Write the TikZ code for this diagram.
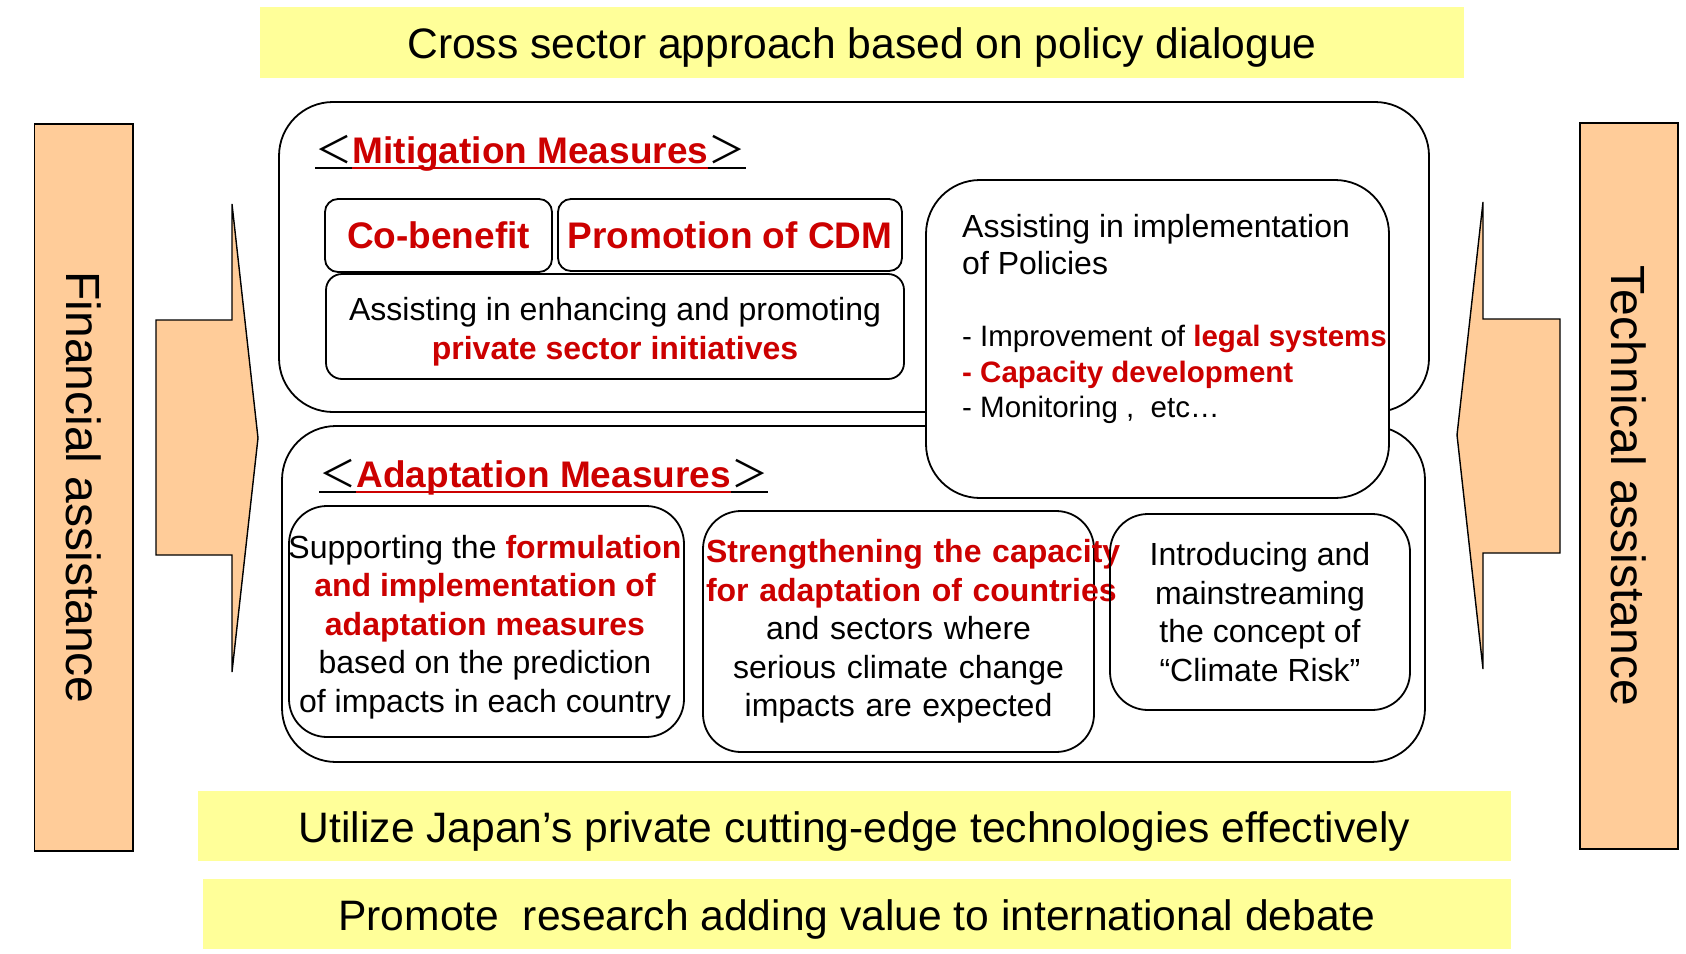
\documentclass[tikz,border=0pt]{standalone}
\usepackage{fontspec}
\setmainfont{Liberation Sans}
\newfontfamily\cjk{Noto Sans CJK JP}
\usepackage{xcolor}
\usepackage{tikz}
\usetikzlibrary{positioning}
\definecolor{bandyellow}{RGB}{255,255,153}
\definecolor{sideorange}{RGB}{255,204,153}
\definecolor{keyred}{RGB}{204,0,0}
\newcommand{\kw}[1]{\textcolor{keyred}{\bfseries #1}}

\begin{document}
\begin{tikzpicture}[x=1pt, y=-1pt,
  band/.style={fill=bandyellow, inner sep=0pt, text height=32pt, text depth=0pt,
               font=\fontsize{42.6}{48}\selectfont},
  sidebar/.style={draw, fill=sideorange, line width=1.6pt, inner sep=0pt,
                  font=\fontsize{48}{54}\selectfont},
  bigbox/.style={draw, rounded corners=54pt, line width=1.8pt, inner sep=0pt},
  smallbox/.style={draw, rounded corners=13pt, line width=1.8pt, inner sep=3pt,
                   align=center, font=\fontsize{37}{42}\selectfont},
  adbox/.style={draw, rounded corners=38pt, line width=1.8pt, inner sep=3pt,
                align=center, font=\fontsize{32}{38.5}\selectfont},
  boxtext/.style={inner sep=0pt, align=center, font=\fontsize{32}{38.5}\selectfont},
  head/.style={inner sep=0pt, anchor=base west, font=\fontsize{37}{42}\selectfont},
  uline/.style={line width=2pt},
  bigarrow/.style={draw, fill=sideorange, line width=1.4pt}
]
\useasboundingbox (0,0) rectangle (1686,953);

% yellow bands
\node[band, minimum width=1204pt, minimum height=71pt] (crosssector) at (862,42.5)
  {Cross sector approach based on policy dialogue};
\node[band, minimum width=1313pt, minimum height=70pt] (technology) at (854.5,826)
  {Utilize Japan’s private cutting-edge technologies effectively};
\node[band, minimum width=1308pt, minimum height=70pt] (research) at (857,914)
  {Promote\ \ research adding value to international debate};

% side bars and arrows
\node[sidebar, rotate=-90, minimum width=727pt, minimum height=98.5pt] (financial) at (83.75,487.5) {Financial assistance};
\node[sidebar, rotate=-90, minimum width=726pt, minimum height=98pt] (technical) at (1629,486) {Technical assistance};
\draw[bigarrow] (156,320) -- (232,320) -- (232,204) -- (258,438) -- (232,672) -- (232,555) -- (156,555) -- cycle;
\draw[bigarrow] (1560,319) -- (1483,319) -- (1483,202) -- (1457,435) -- (1483,669) -- (1483,553) -- (1560,553) -- cycle;

% frames
\node[bigbox, minimum width=1150pt, minimum height=310pt] (mitigation) at (854,257) {};
\node[bigbox, minimum width=1143pt, minimum height=336pt] (adaptation) at (853.5,594) {};
\node[bigbox, fill=white, minimum width=463pt, minimum height=318pt] (policy) at (1157.5,339) {};

% Mitigation
\node[head] (mitl) at (315,163) {\cjk ＜};
\node[head, text=keyred] (mitt) at (mitl.base east) {\bfseries Mitigation Measures};
\node[head] (mitr) at (mitt.base east) {\cjk ＞};
\draw[uline] ([yshift=-5pt]mitl.base west) -- ([yshift=-5pt]mitr.base east);
\draw[uline, keyred] ([yshift=-5pt]mitt.base west) -- ([yshift=-5pt]mitt.base east);

\node[smallbox, minimum width=227pt, minimum height=73pt] (cobenefit) at (438.5,235.5) {\kw{Co-benefit}};
\node[smallbox, minimum width=344pt, minimum height=72pt] (cdm) at (730,235) {\kw{Promotion of CDM}};
\node[smallbox, minimum width=578pt, minimum height=105pt, rounded corners=16pt] (private) at (615,326.5) {};
\node[boxtext] (privatetext) at (615,331.5)
  {Assisting in enhancing and promoting\\\kw{private sector initiatives}};

% Policies
\node[anchor=north west, inner sep=0pt, align=left, font=\fontsize{32}{37}\selectfont]
  (policyhead) at (962,214) {Assisting in implementation\\of Policies};
\node[anchor=north west, inner sep=0pt, align=left, font=\fontsize{29.5}{35.5}\selectfont]
  (policylist) at (962,325)
  {- Improvement of \kw{legal systems}\\\kw{- Capacity development}\\- Monitoring ,\ \ etc…};

% Adaptation
\node[head] (adpl) at (319,487) {\cjk ＜};
\node[head, text=keyred] (adpt) at (adpl.base east) {\bfseries Adaptation Measures};
\node[head] (adpr) at (adpt.base east) {\cjk ＞};
\draw[uline] ([yshift=-5pt]adpl.base west) -- ([yshift=-5pt]adpr.base east);
\draw[uline, keyred] ([yshift=-5pt]adpt.base west) -- ([yshift=-5pt]adpt.base east);

\node[adbox, minimum width=395pt, minimum height=231pt] (formulation) at (486.5,621.5) {};
\node[boxtext] (formulationtext) at (485,627)
  {Supporting the \kw{formulation}\\\kw{and implementation of}\\\kw{adaptation measures}\\based on the prediction\\of impacts in each country};
\node[adbox, text width=385pt, minimum height=241pt] (capacity) at (898.5,631.5)
  {\mbox{\kw{Strengthening the capacity}}\\\mbox{\kw{for adaptation of countries}}\\and sectors where\\serious climate change\\impacts are expected};
\node[adbox, minimum width=300pt, minimum height=196pt] (climaterisk) at (1260,612)
  {Introducing and\\mainstreaming\\the concept of\\“Climate Risk”};

\end{tikzpicture}
\end{document}
